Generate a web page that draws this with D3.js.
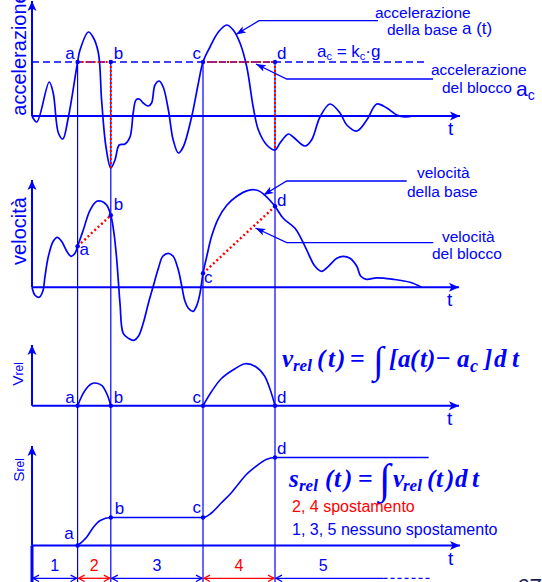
<!DOCTYPE html>
<html>
<head>
<meta charset="utf-8">
<script src="https://cdn.jsdelivr.net/npm/d3@7/dist/d3.min.js"></script>
<style>
  html, body { margin: 0; padding: 0; background: #ffffff; overflow: hidden; }
  svg { display: block; }
</style>
</head>
<body>
<svg id="chart" width="542" height="582"></svg>
<script>
// ---- data -----------------------------------------------------------
// Instants at which the block starts / stops slipping on the base
const eventNames = ["a", "b", "c", "d"];
const eventTimes = [11.4, 19.7, 42.75, 60.75];

// Critical acceleration a_c = k_c·g
const criticalAccel = 5.4;

// Base acceleration a(t): [t, a]
const baseAccel = [
  [0, 0], [1.2, -0.6], [4.3, 3.4], [5.3, 2.3], [6.6, -1.7], [7.7, -2.3], [9.1, -0.1],
  [11.4, 5.4], [12, 6.6], [14.1, 8.4], [15.25, 7.9], [16.6, 6.3], [17.4, 1.6], [18.5, -3.1],
  [19.7, -5.2], [20.75, -4.4], [21.8, -2.9], [23.25, -2.8], [24.5, -2.1], [25.3, 0.3],
  [26, 1.6], [26.8, 1.7], [27.8, 1.3], [29.1, 1.0], [29.9, 1.3], [30.75, 3.1], [31.8, 3.5],
  [32.8, 2.9], [34.1, 0.6], [35.3, -2.4], [36.6, -3.7], [37.8, -3.1], [39.9, -0.1],
  [41.6, 3.3], [42.75, 5.4], [44.5, 6.9], [46.6, 8.4], [48.7, 9.1], [50.3, 8.6], [52, 7.3],
  [53.7, 4.9], [55.3, 0.9], [56.6, -1.4], [58.7, -2.9], [60.75, -3.4], [62, -2.7],
  [64.1, -1.8], [65.3, -2.1], [68.25, -3.0], [69.9, -2.4], [72, -0.1], [74.5, 1.2],
  [77, 0.3], [78.7, -0.9], [81.2, -1.5], [83.7, -0.4], [86.2, 1.2], [88.7, 0.8],
  [91.2, 0.1], [93.25, -0.1], [95.3, 0]
];

// Base velocity v(t): [t, v]
const baseVel = [
  [0, 0], [0.75, -0.8], [1.8, -1.0], [2.7, -0.4], [3.25, 1.1], [4.1, 3.1], [5.3, 4.6],
  [6.3, 5.0], [7.4, 4.6], [8.7, 3.6], [9.75, 3.1], [10.75, 3.4], [11.4, 4.1], [12.8, 5.7],
  [14.5, 7.7], [16.2, 8.6], [17.4, 8.6], [18.7, 8.2], [19.7, 7.2], [20.5, 5.4], [21.2, 2.7],
  [22, -1.6], [22.8, -4.6], [24.1, -5.1], [25.5, -5.3], [26.6, -4.9], [27.8, -3.6],
  [29.1, -1.6], [30.3, 0.1], [31.6, 1.9], [32.7, 3.1], [34.1, 3.4], [35.3, 3.1],
  [36.6, 1.7], [37.4, 0.2], [38.25, -1.4], [39.1, -2.1], [40.3, -2.4], [41.2, -1.8],
  [42, -0.6], [42.75, 1.4], [43.7, 3.1], [44.9, 5.1], [46.6, 6.9], [48.7, 8.2],
  [51.2, 9.1], [54.1, 9.7], [56.3, 9.7], [58.25, 9.2], [60.75, 8.1], [62.8, 6.9],
  [65.75, 5.9], [68.25, 4.1], [70.75, 2.1], [72.4, 1.6], [74.1, 2.1], [76.2, 2.9],
  [77.8, 3.1], [79.5, 2.9], [81.2, 2.1], [82.2, 1.1], [83.6, 0.8], [86.2, 0.95],
  [90.3, 0.8], [94.5, 0.5], [97.4, 0]
];

// Relative velocity during the two slipping phases
const relVelAB = [[11.4, 0], [13.2, 1.5], [14.9, 2.2], [16.2, 2.25], [17.5, 2.0], [18.8, 1.1], [19.7, 0]];
const relVelCD = [[42.75, 0], [44.7, 1.3], [47.3, 2.7], [50.75, 3.7], [53.35, 4.2],
                  [55.95, 3.9], [58.1, 3.0], [59.8, 1.3], [60.75, 0]];

// Relative displacement s_rel(t)
const relDisp = [[11.4, 0], [13.6, 0.8], [15.3, 1.8], [17.05, 2.5], [19.7, 2.8], [42.75, 2.8],
                 [44.7, 3.2], [47.3, 4.25], [49.9, 5.3], [51.6, 6.15], [53.35, 7.0],
                 [55.95, 7.9], [58.55, 8.6], [60.75, 8.8], [99.15, 8.8]];

// Time intervals along the bottom
const intervalLabels = ["1", "2", "3", "4", "5"];
const intervalSlipping = [false, true, false, true, false];
const lastIntervalEnd = 87.9;
const lastIntervalTail = 100;

// ---- drawing --------------------------------------------------------
const BLUE = "#0000ff", RED = "#ff0000";
const SANS = "'Liberation Sans', Arial, sans-serif";
const SERIF = "'Liberation Serif', 'Times New Roman', serif";

const svg = d3.select("#chart");
svg.append("rect").attr("width", 542).attr("height", 582).attr("fill", "#fff");

const x = d3.scaleLinear().domain([0, 107]).range([32, 460]);
const yA = d3.scaleLinear().domain([0, 10]).range([116, 16]);
const yV = d3.scaleLinear().domain([0, 10]).range([287.3, 187.3]);
const yR = d3.scaleLinear().domain([0, 10]).range([405.7, 305.7]);
const yS = d3.scaleLinear().domain([0, 10]).range([545.5, 445.5]);

const valueAt = (series, t) => series.find(p => Math.abs(p[0] - t) < 1e-9)[1];

const defs = svg.append("defs");
function arrowMarker(id, len, half, color) {
  defs.append("marker")
    .attr("id", id)
    .attr("viewBox", `0 ${-half - 1} ${len + 1} ${2 * half + 2}`)
    .attr("refX", len).attr("refY", 0)
    .attr("markerWidth", len + 1).attr("markerHeight", 2 * half + 2)
    .attr("markerUnits", "userSpaceOnUse")
    .attr("orient", "auto-start-reverse")
    .append("path")
    .attr("d", `M0,${-half}L${len},0L0,${half}L${len * 0.25},0Z`)
    .attr("fill", color);
}
arrowMarker("axisHead", 10, 4.5, BLUE);
arrowMarker("calloutHead", 10, 3.6, BLUE);

// event verticals, from the a_c level down to the bottom
eventTimes.forEach(t => {
  svg.append("line")
    .attr("x1", x(t)).attr("x2", x(t))
    .attr("y1", yA(criticalAccel)).attr("y2", 582)
    .attr("stroke", BLUE).attr("stroke-width", 1.2);
});

// axes of the four panels
const panels = [
  { y: yA, top: 1, end: 460 },
  { y: yV, top: 180, end: 459 },
  { y: yR, top: 345, end: 459 },
  { y: yS, top: 446, end: 460 }
];
panels.forEach(p => {
  svg.append("line")
    .attr("x1", x(0)).attr("x2", p.end).attr("y1", p.y(0)).attr("y2", p.y(0))
    .attr("stroke", BLUE).attr("stroke-width", 2).attr("marker-end", "url(#axisHead)");
  svg.append("line")
    .attr("x1", x(0)).attr("x2", x(0)).attr("y1", p.y(0)).attr("y2", p.top)
    .attr("stroke", BLUE).attr("stroke-width", 2).attr("marker-end", "url(#axisHead)");
  svg.append("text")
    .attr("x", p.end - 12).attr("y", p.y(0) + 19)
    .attr("font-family", SANS).attr("font-size", 19).attr("fill", BLUE)
    .text("t");
});

// y-axis titles
function axisTitle(cx, cy, main, sub, size, subSize) {
  const t = svg.append("text")
    .attr("transform", `translate(${cx},${cy}) rotate(-90)`)
    .attr("text-anchor", "middle")
    .attr("font-family", SANS).attr("font-size", size).attr("fill", BLUE);
  t.append("tspan").text(main);
  if (sub) t.append("tspan").attr("font-size", subSize).attr("dy", 0).text(sub);
}
axisTitle(26, 54, "accelerazione", null, 20);
axisTitle(25.5, 231, "velocità", null, 20);
axisTitle(22.5, 374, "V", "rel", 15.5, 12);
axisTitle(23.5, 470, "S", "rel", 15.5, 12);

const lineGen = (yScale, curve) => d3.line().x(d => x(d[0])).y(d => yScale(d[1])).curve(curve);
const smooth = d3.curveCatmullRom.alpha(0.5);

// ---- acceleration panel ----
svg.append("line")
  .attr("x1", x(0)).attr("x2", 427)
  .attr("y1", yA(criticalAccel)).attr("y2", yA(criticalAccel))
  .attr("stroke", BLUE).attr("stroke-width", 1.4).attr("stroke-dasharray", "7,4");

svg.append("path").datum(baseAccel)
  .attr("d", lineGen(yA, smooth))
  .attr("fill", "none").attr("stroke", BLUE).attr("stroke-width", 1.7);

// block acceleration (red dotted) during slipping
[[0, 1], [2, 3]].forEach(([i, j]) => {
  svg.append("line")
    .attr("x1", x(eventTimes[i])).attr("x2", x(eventTimes[j]))
    .attr("y1", yA(criticalAccel)).attr("y2", yA(criticalAccel))
    .attr("stroke", RED).attr("stroke-width", 2).attr("stroke-dasharray", "2,2");
  svg.append("line")
    .attr("x1", x(eventTimes[j])).attr("x2", x(eventTimes[j]))
    .attr("y1", yA(criticalAccel)).attr("y2", yA(valueAt(baseAccel, eventTimes[j])))
    .attr("stroke", RED).attr("stroke-width", 2).attr("stroke-dasharray", "2,2");
});

// ---- velocity panel ----
svg.append("path").datum(baseVel)
  .attr("d", lineGen(yV, smooth))
  .attr("fill", "none").attr("stroke", BLUE).attr("stroke-width", 1.7);

[[0, 1], [2, 3]].forEach(([i, j]) => {
  svg.append("line")
    .attr("x1", x(eventTimes[i])).attr("x2", x(eventTimes[j]))
    .attr("y1", yV(valueAt(baseVel, eventTimes[i]))).attr("y2", yV(valueAt(baseVel, eventTimes[j])))
    .attr("stroke", RED).attr("stroke-width", 2.4).attr("stroke-dasharray", "2,2.6");
});

// ---- relative velocity panel ----
[relVelAB, relVelCD].forEach(seg => {
  svg.append("path").datum(seg)
    .attr("d", lineGen(yR, smooth))
    .attr("fill", "none").attr("stroke", BLUE).attr("stroke-width", 1.6);
});

// ---- relative displacement panel ----
svg.append("path").datum(relDisp)
  .attr("d", lineGen(yS, d3.curveMonotoneX))
  .attr("fill", "none").attr("stroke", BLUE).attr("stroke-width", 1.6);

// event dots and letters
function dot(cx, cy) {
  svg.append("circle").attr("cx", cx).attr("cy", cy).attr("r", 2.2).attr("fill", BLUE);
}
function letter(px, py, txt, anchor) {
  svg.append("text").attr("x", px).attr("y", py).attr("text-anchor", anchor)
    .attr("font-family", SANS).attr("font-size", 17).attr("fill", BLUE).text(txt);
}
const letterSide = ["end", "start", "end", "start"];
const letterGap = [-3, 3, -2, 2];
eventTimes.forEach((t, i) => {
  const px = x(t);
  // acceleration
  dot(px, yA(criticalAccel));
  letter(px + letterGap[i], yA(criticalAccel) - 3, eventNames[i], letterSide[i]);
  // velocity
  dot(px, yV(valueAt(baseVel, t)));
  // relative velocity
  dot(px, yR(0));
  letter(px + letterGap[i], yR(0) - 3, eventNames[i], letterSide[i]);
  // relative displacement
  dot(px, yS(valueAt(relDisp, t)));
});
// velocity letters sit right of the curve
[[0, 2, 9], [1, 3, -5], [2, 1, 10], [3, 2, 0]].forEach(([i, dx, dy]) => {
  const t = eventTimes[i];
  letter(x(t) + dx, yV(valueAt(baseVel, t)) + dy, eventNames[i], "start");
});
// displacement letters
[[0, -4, -7, "end"], [1, 4, -4, "start"], [2, -2, -5, "end"], [3, 2, -4, "start"]].forEach(([i, dx, dy, anc]) => {
  const t = eventTimes[i];
  letter(x(t) + dx, yS(valueAt(relDisp, t)) + dy, eventNames[i], anc);
});

// ---- callouts ----
function callout(pts) {
  svg.append("path")
    .attr("d", d3.line()(pts))
    .attr("fill", "none").attr("stroke", BLUE).attr("stroke-width", 1.3)
    .attr("marker-start", "url(#calloutHead)");
}
function label(px, py, parts, anchor) {
  const t = svg.append("text").attr("x", px).attr("y", py)
    .attr("text-anchor", anchor || "start")
    .attr("font-family", SANS).attr("fill", BLUE);
  parts.forEach(p => {
    const s = t.append("tspan").attr("font-size", p.size || 15.5).text(p.text);
    if (p.dy) s.attr("dy", p.dy);
    if (p.fill) s.attr("fill", p.fill);
  });
  return t;
}
callout([[236, 34.5], [259, 20.7], [378, 20.7]]);
label(375, 18, [{ text: "accelerazione" }]);
label(387, 35, [{ text: "della base " }, { text: "a (t)", size: 17, dy: -1.5 }]);

callout([[256, 64], [286.7, 79], [433, 79]]);
label(431, 75, [{ text: "accelerazione" }]);
label(442, 93, [{ text: "del blocco  " }, { text: "a", size: 21, dy: 3 }, { text: "c", size: 14, dy: 4 }]);

label(317, 57, [{ text: "a", size: 17 }, { text: "c", size: 11, dy: 3 }, { text: " = k", size: 17, dy: -3 },
                { text: "c", size: 11, dy: 3 }, { text: "·g", size: 17, dy: -3 }]);

callout([[263.5, 195], [286.7, 181], [406.7, 181]]);
label(417, 178, [{ text: "velocità" }]);
label(407, 196.5, [{ text: "della base" }]);

callout([[255.5, 228], [286.7, 242.7], [433.3, 242.7]]);
label(442, 241.5, [{ text: "velocità" }]);
label(432, 259, [{ text: "del blocco" }]);

// ---- formulas ----
function formula(baseline, tokens) {
  tokens.forEach(([txt, px, dy, size, upright]) => {
    svg.append("text")
      .attr("x", px).attr("y", baseline + (dy || 0))
      .attr("font-family", SERIF).attr("font-size", size || 25)
      .attr("font-weight", "bold").attr("font-style", upright ? "normal" : "italic")
      .attr("fill", BLUE).text(txt);
  });
}
formula(367, [
  ["v", 282], ["rel", 293, 4, 17], ["(", 317], ["t", 328], [")", 337],
  ["=", 350, 0, 26, true], ["∫", 373, 6, 38, true], ["[", 389], ["a", 398], ["(", 410],
  ["t", 420], [")", 427], ["−", 436, 0, 26, true], ["a", 457], ["c", 470, 5, 18],
  ["]", 484], ["d", 494], ["t", 512]
]);
formula(487, [
  ["s", 289], ["rel", 299, 4, 17], ["(", 325], ["t", 334], [")", 344],
  ["=", 358, 0, 26, true], ["∫", 379, 6, 42, true], ["v", 393], ["rel", 403, 4, 17],
  ["(", 427], ["t", 436], [")", 446], ["d", 455], ["t", 472]
]);

label(292, 512, [{ text: "2, 4 spostamento", size: 16, fill: RED }]);
label(292, 535, [{ text: "1, 3, 5 nessuno spostamento", size: 16 }]);

// ---- interval brackets ----
const bracketY = 578.3;
const starts = [0].concat(eventTimes);
const ends = eventTimes.concat([lastIntervalEnd]);
function head(px, dir, color) {
  svg.append("path")
    .attr("d", `M${px + dir * 6},${bracketY - 3.2}L${px},${bracketY}L${px + dir * 6},${bracketY + 3.2}`)
    .attr("fill", "none").attr("stroke", color).attr("stroke-width", 1.3);
}
intervalLabels.forEach((lab, i) => {
  const color = intervalSlipping[i] ? RED : BLUE;
  const x0 = x(starts[i]) + 1, x1 = x(ends[i]) - (i < 4 ? 1 : 0);
  svg.append("line").attr("x1", x0).attr("x2", x1).attr("y1", bracketY).attr("y2", bracketY)
    .attr("stroke", color).attr("stroke-width", 1.3);
  head(x0, 1, color);
  if (i < 4) head(x1, -1, color);
  svg.append("text")
    .attr("x", (x(starts[i]) + x(ends[i])) / 2 - (i === 4 ? 6 : 0)).attr("y", 571)
    .attr("text-anchor", "middle")
    .attr("font-family", SANS).attr("font-size", 16).attr("fill", color).text(lab);
});
svg.append("line")
  .attr("x1", x(lastIntervalEnd)).attr("x2", x(lastIntervalTail))
  .attr("y1", bracketY).attr("y2", bracketY)
  .attr("stroke", BLUE).attr("stroke-width", 1.3).attr("stroke-dasharray", "4,3");
svg.append("line")
  .attr("x1", x(0)).attr("x2", x(0)).attr("y1", yS(0)).attr("y2", 582)
  .attr("stroke", BLUE).attr("stroke-width", 3);

// page number at the foot
svg.append("text").attr("x", 516).attr("y", 594)
  .attr("font-family", SANS).attr("font-size", 22).attr("font-style", "italic")
  .attr("fill", "#1a1a50").text("67");
</script>
</body>
</html>
